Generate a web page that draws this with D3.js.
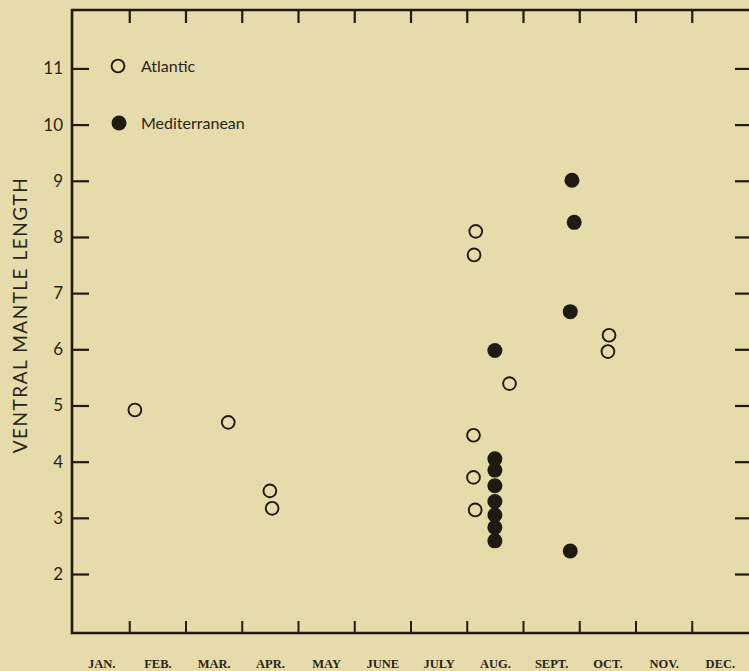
<!DOCTYPE html>
<html>
  <head>
    <script src="https://d3js.org/d3.v7.min.js"></script>
    <style>
      body { margin: 0; background: #e6dcab; }
      svg { display: block; }
      .ink line, .ink path { stroke: #1f1a12; }
    </style>
  </head>
  <body>
    <script>
      // Months along the bottom
      var months = ["JAN.", "FEB.", "MAR.", "APR.", "MAY", "JUNE", "JULY", "AUG.", "SEPT.", "OCT.", "NOV.", "DEC."];
      var yTicks = [2, 3, 4, 5, 6, 7, 8, 9, 10, 11];

      // Atlantic (open circles): position in months from Jan 1, ventral mantle length
      var atlMonth = [1.10, 2.76, 3.50, 3.54, 7.16, 7.13, 7.12, 7.12, 7.15, 7.76, 9.53, 9.51];
      var atlLength = [4.92, 4.70, 3.48, 3.17, 8.10, 7.68, 4.47, 3.72, 3.14, 5.39, 6.25, 5.96];

      // Mediterranean (filled circles)
      var medMonth = [8.87, 8.91, 8.84, 7.50, 7.50, 7.50, 7.50, 7.50, 7.50, 7.50, 7.50, 8.84];
      var medLength = [9.01, 8.26, 6.67, 5.98, 4.05, 3.85, 3.57, 3.29, 3.05, 2.83, 2.59, 2.41];

      var W = 749, H = 671;
      var box = {left: 72, right: 749, top: 10, bottom: 633};
      var ink = "#1f1a12";

      var svg = d3.select("body").append("svg")
        .attr("width", W)
        .attr("height", H);

      var x = d3.scaleLinear().domain([0, 12]).range([73, 748]);
      var y = d3.scaleLinear().domain([0.95, 12.04]).range([box.bottom, box.top]);

      // frame: left, bottom, top
      svg.append("g").attr("class", "ink")
        .append("path")
        .attr("d", "M" + box.right + "," + box.top + "H" + box.left + "V" + box.bottom + "H" + box.right)
        .attr("fill", "none")
        .attr("stroke-width", 2.6);

      // left axis, ticks pointing inward
      svg.append("g")
        .attr("class", "ink")
        .attr("transform", "translate(" + box.left + ",0)")
        .call(d3.axisLeft(y).tickValues(yTicks).tickSize(-17).tickPadding(9).tickSizeOuter(0))
        .call(function(g) { g.select(".domain").remove(); })
        .call(function(g) {
          g.selectAll("line").attr("stroke-width", 2.2);
          g.selectAll("text")
            .attr("fill", "#2a2418")
            .style("font-family", "Lato, 'Open Sans', sans-serif")
            .style("font-size", "17px");
        });

      // right side ticks
      svg.append("g")
        .attr("class", "ink")
        .attr("transform", "translate(" + box.right + ",0)")
        .call(d3.axisRight(y).tickValues(yTicks).tickSize(-14).tickFormat("").tickSizeOuter(0))
        .call(function(g) { g.select(".domain").remove(); })
        .selectAll("line").attr("stroke-width", 2.2);

      // bottom month boundary ticks
      svg.append("g")
        .attr("class", "ink")
        .attr("transform", "translate(0," + box.bottom + ")")
        .call(d3.axisBottom(x).tickValues(d3.range(1, 12)).tickSize(-12).tickFormat("").tickSizeOuter(0))
        .call(function(g) { g.select(".domain").remove(); })
        .selectAll("line").attr("stroke-width", 2);

      // top ticks
      svg.append("g")
        .attr("class", "ink")
        .attr("transform", "translate(0," + box.top + ")")
        .call(d3.axisTop(x).tickValues(d3.range(1, 12)).tickSize(-13).tickFormat("").tickSizeOuter(0))
        .call(function(g) { g.select(".domain").remove(); })
        .selectAll("line").attr("stroke-width", 2.2);

      // month labels centred in each month
      svg.append("g")
        .attr("transform", "translate(0," + box.bottom + ")")
        .call(d3.axisBottom(x).tickValues(d3.range(12).map(function(i) { return i + 0.5; }))
          .tickSize(0).tickPadding(26).tickFormat(function(d, i) { return months[i]; }))
        .call(function(g) { g.select(".domain").remove(); })
        .selectAll("text")
          .attr("fill", "#2a2418")
          .style("font-family", "'Liberation Serif', 'DejaVu Serif', serif")
          .style("font-weight", "bold")
          .style("font-size", "12.5px");

      // y axis title
      svg.append("text")
        .attr("transform", "translate(27,315) rotate(-90)")
        .attr("text-anchor", "middle")
        .attr("fill", "#2a2418")
        .style("font-family", "Lato, 'Open Sans', sans-serif")
        .style("font-size", "19px")
        .style("letter-spacing", "1.5px")
        .text("VENTRAL MANTLE LENGTH");

      // data
      var atl = atlMonth.map(function(m, i) { return {m: m, v: atlLength[i]}; });
      var med = medMonth.map(function(m, i) { return {m: m, v: medLength[i]}; });

      svg.append("g").selectAll("circle")
        .data(atl)
        .enter().append("circle")
          .attr("cx", function(d) { return x(d.m); })
          .attr("cy", function(d) { return y(d.v); })
          .attr("r", 6.4)
          .attr("fill", "none")
          .attr("stroke", ink)
          .attr("stroke-width", 1.9);

      svg.append("g").selectAll("circle")
        .data(med)
        .enter().append("circle")
          .attr("cx", function(d) { return x(d.m); })
          .attr("cy", function(d) { return y(d.v); })
          .attr("r", 7.5)
          .attr("fill", ink);

      // legend
      var legend = svg.append("g");
      legend.append("circle")
        .attr("cx", 118).attr("cy", 66).attr("r", 6.4)
        .attr("fill", "none").attr("stroke", ink).attr("stroke-width", 1.9);
      legend.append("circle")
        .attr("cx", 119).attr("cy", 123).attr("r", 7.5)
        .attr("fill", ink);
      legend.selectAll("text")
        .data(["Atlantic", "Mediterranean"])
        .enter().append("text")
          .attr("x", 141)
          .attr("y", function(d, i) { return i === 0 ? 72 : 129; })
          .attr("fill", "#2a2418")
          .style("font-family", "Lato, 'Open Sans', sans-serif")
          .style("font-size", "16px")
          .text(function(d) { return d; });
    </script>
  </body>
</html>
